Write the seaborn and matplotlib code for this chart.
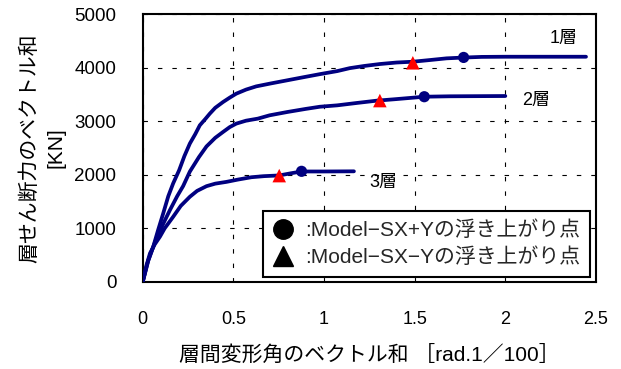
import matplotlib
matplotlib.use("Agg")
import matplotlib.pyplot as plt
from matplotlib.lines import Line2D
import seaborn as sns
import pandas as pd

# Story drift (rad/100) vs. story shear (kN) for each story
drift_1 = [0, 0.03, 0.058, 0.085, 0.113, 0.141, 0.168, 0.201, 0.23, 0.26, 0.29,
           0.315, 0.345, 0.37, 0.40, 0.443, 0.48, 0.516, 0.57, 0.626, 0.707,
           0.80, 0.89, 0.98, 1.073, 1.142, 1.22, 1.308, 1.40, 1.49, 1.58,
           1.676, 1.77, 1.869, 2.0, 2.445]
shear_1 = [0, 390, 657, 970, 1279, 1600, 1840, 2086, 2350, 2583, 2760,
           2924, 3040, 3141, 3250, 3358, 3440, 3514, 3590, 3650, 3705,
           3765, 3823, 3880, 3935, 3990, 4030, 4067, 4095, 4110, 4140,
           4173, 4188, 4200, 4203, 4203]

drift_2 = [0, 0.03, 0.077, 0.115, 0.15, 0.19, 0.223, 0.26, 0.31, 0.352, 0.40,
           0.443, 0.48, 0.516, 0.57, 0.635, 0.70, 0.798, 0.90, 0.977, 1.073,
           1.18, 1.29, 1.39, 1.47, 1.553, 1.694, 2.0]
shear_2 = [0, 400, 825, 1100, 1341, 1600, 1790, 2060, 2330, 2530, 2690,
           2799, 2890, 2955, 3010, 3048, 3110, 3172, 3230, 3270, 3296,
           3340, 3383, 3410, 3433, 3457, 3465, 3470]

drift_3 = [0, 0.02, 0.04, 0.066, 0.095, 0.121, 0.168, 0.21, 0.26, 0.30, 0.352,
           0.40, 0.462, 0.524, 0.60, 0.67, 0.753, 0.82, 0.876, 1.0, 1.165]
shear_3 = [0, 300, 534, 700, 845, 1000, 1217, 1420, 1590, 1700, 1788,
           1835, 1868, 1910, 1955, 1975, 1988, 2030, 2062, 2062, 2065]

stories = ["1層", "2層", "3層"]

# Uplift points: Model-SX+Y (circles) and Model-SX-Y (triangles)
uplift_pos_x = [1.77, 1.553, 0.876]
uplift_pos_y = [4190, 3457, 2065]
uplift_neg_x = [1.49, 1.308, 0.753]
uplift_neg_y = [4090, 3385, 1985]

story_label_x = [2.32, 2.17, 1.325]
story_label_y = [4540, 3390, 1860]

x_ticks = [0, 0.5, 1, 1.5, 2, 2.5]
x_tick_labels = ["0", "0.5", "1", "1.5", "2", "2.5"]
y_ticks = [0, 1000, 2000, 3000, 4000, 5000]

sns.set_theme(style="white")
plt.rcParams["font.family"] = ["Liberation Sans", "Noto Sans CJK JP", "DejaVu Sans"]
plt.rcParams["axes.unicode_minus"] = False

curves = pd.concat([
    pd.DataFrame({"drift": drift_1, "shear": shear_1, "story": stories[0]}),
    pd.DataFrame({"drift": drift_2, "shear": shear_2, "story": stories[1]}),
    pd.DataFrame({"drift": drift_3, "shear": shear_3, "story": stories[2]}),
], ignore_index=True)

navy = "#000080"

fig = plt.figure(figsize=(6.21, 3.69), dpi=100)
ax = fig.add_axes([0.2298, 0.2358, 0.9597 - 0.2298, 0.962 - 0.2358])

sns.lineplot(data=curves, x="drift", y="shear", hue="story",
             palette=[navy] * 3, sort=False, estimator=None,
             linewidth=2.7, legend=False, ax=ax, zorder=3)

sns.scatterplot(x=uplift_neg_x, y=uplift_neg_y, marker="^", s=95,
                color="#ff0000", edgecolor="none", ax=ax, zorder=4)
sns.scatterplot(x=uplift_pos_x, y=uplift_pos_y, marker="o", s=65,
                color=navy, edgecolor="none", ax=ax, zorder=4)

for name, lx, ly in zip(stories, story_label_x, story_label_y):
    ax.text(lx, ly, name, fontsize=13, ha="center", va="center", color="black")

ax.set_xlim(0, 2.5)
ax.set_ylim(0, 5000)
ax.set_xticks(x_ticks)
ax.set_xticklabels(x_tick_labels)
ax.set_yticks(y_ticks)
ax.tick_params(axis="x", length=0, pad=21, labelsize=13, colors="black")
ax.tick_params(axis="y", length=0, pad=19, labelsize=13.5, colors="black")

ax.grid(True, color="black", linestyle=(0, (4, 9)), linewidth=0.8)
for spine in ax.spines.values():
    spine.set_color("black")
    spine.set_linewidth(1.5)

ax.set_xlabel("層間変形角のベクトル和 ［rad.1／100］", fontsize=15,
              color="black", labelpad=12)
ax.set_ylabel("層せん断力のベクトル和\n[KN]", fontsize=15, color="black",
              labelpad=6, linespacing=1.5)

handles = [
    Line2D([], [], marker="o", color="black", linestyle="none", markersize=14),
    Line2D([], [], marker="^", color="black", linestyle="none", markersize=14),
]
labels = [":Model\u2212SX+Yの浮き上がり点", ":Model\u2212SX\u2212Yの浮き上がり点"]
leg = ax.legend(handles, labels, loc="lower right", bbox_to_anchor=(0.987, 0.02),
                fontsize=15, frameon=True, fancybox=False, handlelength=1.0,
                handletextpad=0.6, borderpad=0.45, labelspacing=0.35,
                borderaxespad=0)
leg.get_frame().set_edgecolor("black")
leg.get_frame().set_linewidth(1.5)
leg.get_frame().set_alpha(1)

fig.savefig("out.png", dpi=100)
